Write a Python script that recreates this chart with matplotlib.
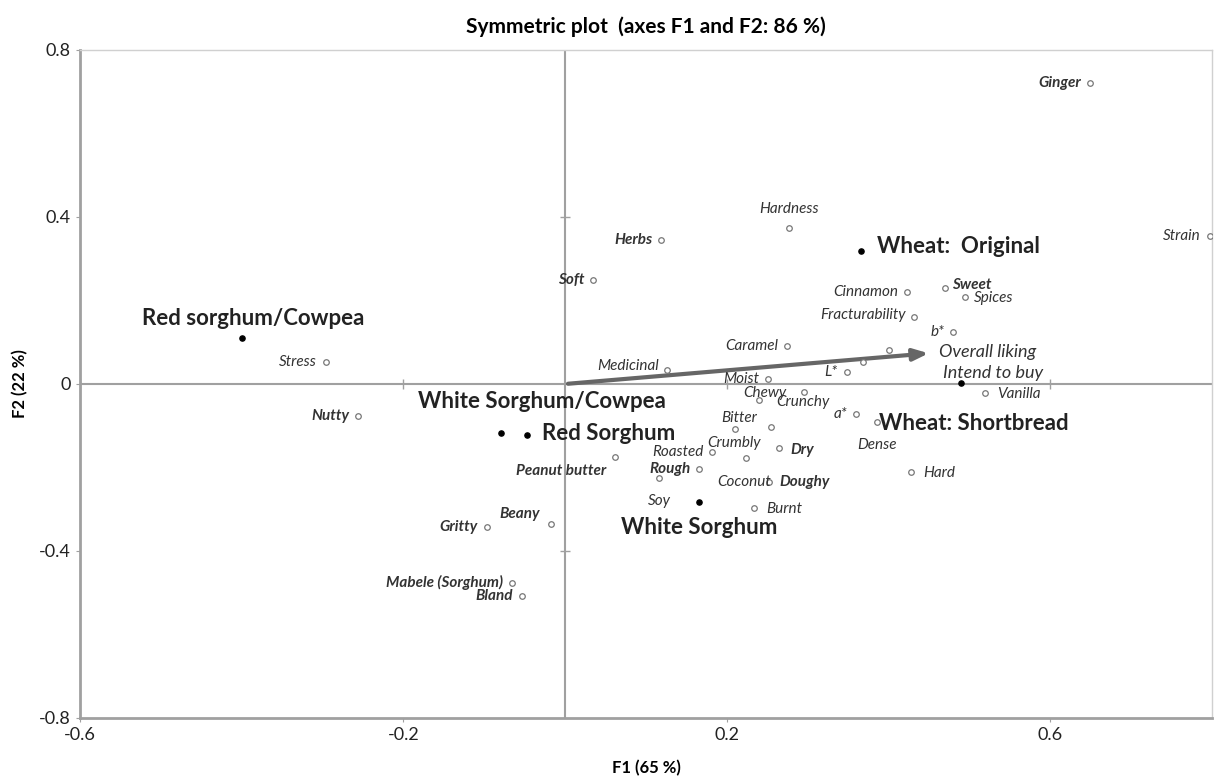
import numpy as np
import matplotlib.pyplot as plt

plt.rcParams['font.family'] = ['Lato', 'DejaVu Sans']

# observations (active rows)
obs_names = ["Red sorghum/Cowpea", "Wheat:  Original", "Wheat: Shortbread",
             "White Sorghum/Cowpea", "Red Sorghum", "White Sorghum"]
obs_x = [-0.400, 0.366, 0.490, -0.079, -0.047, 0.165]
obs_y = [0.110, 0.318, 0.002, -0.117, -0.122, -0.282]

# attributes (columns)
var_names = ["Ginger", "Strain", "Hardness", "Herbs", "Soft", "Cinnamon", "Sweet",
             "Spices", "Fracturability", "b*", "Caramel", "Medicinal", "Moist", "L*",
             "Chewy", "Crunchy", "a*", "Dense", "Bitter", "Crumbly", "Dry", "Roasted",
             "Coconut", "Rough", "Doughy", "Soy", "Burnt", "Hard", "Vanilla",
             "Peanut butter", "Stress", "Nutty", "Gritty", "Beany", "Mabele (Sorghum)",
             "Bland", "Overall liking", "Intend to buy"]
var_x = [0.649, 0.797, 0.277, 0.119, 0.035, 0.423, 0.470,
         0.494, 0.431, 0.480, 0.274, 0.126, 0.251, 0.348,
         0.240, 0.295, 0.360, 0.386, 0.210, 0.255, 0.264, 0.182,
         0.224, 0.166, 0.252, 0.116, 0.234, 0.428, 0.519,
         0.062, -0.296, -0.256, -0.097, -0.017, -0.066,
         -0.053, 0.401, 0.368]
var_y = [0.722, 0.354, 0.373, 0.344, 0.249, 0.220, 0.230,
         0.208, 0.160, 0.124, 0.091, 0.033, 0.012, 0.029,
         -0.038, -0.019, -0.072, -0.091, -0.108, -0.103, -0.153, -0.163,
         -0.177, -0.203, -0.234, -0.225, -0.297, -0.211, -0.022,
         -0.175, 0.053, -0.077, -0.342, -0.335, -0.476,
         -0.507, 0.081, 0.053]
bold_vars = ["Ginger", "Herbs", "Soft", "Sweet", "Dry", "Rough", "Doughy",
             "Peanut butter", "Nutty", "Gritty", "Beany", "Mabele (Sorghum)", "Bland"]

liking_arrow = [0.453, 0.074]

x_ticks = [-0.6, -0.2, 0.2, 0.6]
y_ticks = [0.8, 0.4, 0, -0.4, -0.8]

# label placement: dx, dy (pixels), ha
obs_lab = {
    "Red sorghum/Cowpea": (11, 20, "center"),
    "Wheat:  Original": (16, 5, "left"),
    "Wheat: Shortbread": (-82, -40, "left"),
    "White Sorghum/Cowpea": (41, 31, "center"),
    "Red Sorghum": (15, 1, "left"),
    "White Sorghum": (1, -26, "center"),
}
var_lab = {
    "Hardness": (0, 19, "center"), "Sweet": (7, 3, "left"), "Spices": (9, -1, "left"),
    "Fracturability": (-8, 2, "right"), "Chewy": (6, 7, "center"),
    "Crunchy": (-1, -10, "center"), "Dense": (0, -23, "center"),
    "Bitter": (4, 11, "center"), "Crumbly": (-37, -16, "center"),
    "Dry": (12, -2, "left"), "Coconut": (-2, -24, "center"), "Doughy": (10, 0, "left"),
    "Soy": (0, -23, "center"), "Burnt": (12, -1, "left"), "Hard": (12, -1, "left"),
    "Vanilla": (12, -1, "left"), "Peanut butter": (-9, -14, "right"),
    "Beany": (-12, 10, "right"), "Medicinal": (-8, 4, "right"),
    "Overall liking": (50, -2, "left"), "Intend to buy": (80, -11, "left"),
}

fig = plt.figure(figsize=(12.14, 7.8), dpi=100)
ax = fig.add_axes([0.0659, 0.0795, 0.9325, 0.8564])

ax.axhline(0, color='#a0a0a0', lw=1.5, zorder=1)
ax.axvline(0, color='#a0a0a0', lw=1.5, zorder=1)
ax.plot([t for t in x_ticks if t != 0], [0] * 4, '|', color='#a0a0a0', ms=7, zorder=1)
ax.plot([0] * 2, [0.4, -0.4], '_', color='#a0a0a0', ms=7, zorder=1)

ax.annotate("", xy=liking_arrow, xytext=(0, 0),
            arrowprops=dict(arrowstyle='-|>,head_length=0.9,head_width=0.35',
                            color='#666666', lw=3), zorder=3)

ax.scatter(var_x, var_y, s=16, facecolors='white', edgecolors='#777777',
           linewidths=0.9, zorder=4)
ax.scatter(obs_x, obs_y, s=14, color='black', zorder=5)

for n, x, y in zip(var_names, var_x, var_y):
    dx, dy, ha = var_lab.get(n, (-9, 0, "right"))
    fw = 'bold' if n in bold_vars else 'normal'
    fs = 13 if n in ("Overall liking", "Intend to buy") else 11
    ax.annotate(n, (x, y), xytext=(dx, dy), textcoords='offset pixels',
                ha=ha, va='center', fontsize=fs, style='italic', fontweight=fw,
                color='#333333', zorder=6)

for n, x, y in zip(obs_names, obs_x, obs_y):
    dx, dy, ha = obs_lab[n]
    ax.annotate(n, (x, y), xytext=(dx, dy), textcoords='offset pixels',
                ha=ha, va='center', fontsize=16, fontweight='bold',
                color='#222222', zorder=6)

ax.set_xlim(-0.6, 0.8)
ax.set_ylim(-0.8, 0.8)
ax.set_xticks(x_ticks)
ax.set_yticks(y_ticks)
ax.set_xticklabels([f"{t:g}" for t in x_ticks])
ax.set_yticklabels([f"{t:g}" for t in y_ticks])
ax.tick_params(labelsize=13, length=3, color='#a0a0a0', labelcolor='#222222')

for s in ['left', 'bottom']:
    ax.spines[s].set_color('#a0a0a0')
    ax.spines[s].set_linewidth(2)
for s in ['top', 'right']:
    ax.spines[s].set_color('#d0d0d0')
    ax.spines[s].set_linewidth(1)

ax.set_xlabel("F1 (65 %)", fontsize=12, fontweight='bold', labelpad=12)
ax.set_ylabel("F2 (22 %)", fontsize=12, fontweight='bold', labelpad=8)
ax.set_title("Symmetric plot  (axes F1 and F2: 86 %)", fontsize=15,
             fontweight='bold', pad=12)

fig.savefig("out.png", dpi=100)
